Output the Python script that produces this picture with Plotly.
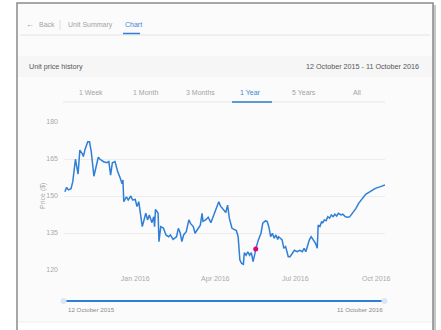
import plotly.graph_objects as go

# Unit price history, 12 Oct 2015 - 11 Oct 2016
dates = [
    "2015-10-13", "2015-10-15", "2015-10-17", "2015-10-20", "2015-10-22", "2015-10-25",
    "2015-10-28", "2015-10-30", "2015-11-02", "2015-11-03", "2015-11-05", "2015-11-08",
    "2015-11-10", "2015-11-12", "2015-11-15", "2015-11-17", "2015-11-20", "2015-11-22",
    "2015-11-26", "2015-11-30", "2015-12-02", "2015-12-04", "2015-12-06", "2015-12-09",
    "2015-12-12", "2015-12-15", "2015-12-17", "2015-12-18", "2015-12-19", "2015-12-22",
    "2015-12-24", "2015-12-27", "2015-12-29", "2016-01-01", "2016-01-03", "2016-01-05",
    "2016-01-07", "2016-01-09", "2016-01-11", "2016-01-13", "2016-01-15", "2016-01-17",
    "2016-01-20", "2016-01-22", "2016-01-23", "2016-01-24", "2016-01-27", "2016-01-28",
    "2016-01-30", "2016-02-02", "2016-02-05", "2016-02-08", "2016-02-10", "2016-02-13",
    "2016-02-17", "2016-02-19", "2016-02-21", "2016-02-23", "2016-02-25", "2016-02-28",
    "2016-03-02", "2016-03-04", "2016-03-07", "2016-03-09", "2016-03-11", "2016-03-15",
    "2016-03-17", "2016-03-18", "2016-03-21", "2016-03-24", "2016-03-27", "2016-03-30",
    "2016-04-01", "2016-04-03", "2016-04-05", "2016-04-07", "2016-04-11", "2016-04-13",
    "2016-04-15", "2016-04-17", "2016-04-20", "2016-04-23", "2016-04-25", "2016-04-27",
    "2016-04-29", "2016-05-01", "2016-05-03", "2016-05-04", "2016-05-06", "2016-05-08",
    "2016-05-10", "2016-05-12", "2016-05-14", "2016-05-16", "2016-05-17", "2016-05-20",
    "2016-05-23", "2016-05-25", "2016-05-28", "2016-05-30", "2016-06-01", "2016-06-03",
    "2016-06-05", "2016-06-07", "2016-06-09", "2016-06-11", "2016-06-12", "2016-06-14",
    "2016-06-16", "2016-06-18", "2016-06-20", "2016-06-22", "2016-06-23", "2016-06-25",
    "2016-06-27", "2016-06-30", "2016-07-03", "2016-07-06", "2016-07-09", "2016-07-11",
    "2016-07-13", "2016-07-15", "2016-07-17", "2016-07-19", "2016-07-22", "2016-07-24",
    "2016-07-26", "2016-07-27", "2016-07-29", "2016-07-31", "2016-08-01", "2016-08-03",
    "2016-08-05", "2016-08-07", "2016-08-09", "2016-08-11", "2016-08-13", "2016-08-15",
    "2016-08-17", "2016-08-19", "2016-08-22", "2016-08-24", "2016-08-27", "2016-08-30",
    "2016-09-01", "2016-09-04", "2016-09-08", "2016-09-11", "2016-09-15", "2016-09-19",
    "2016-09-25", "2016-09-30", "2016-10-06", "2016-10-11",
]
prices = [
    151.7, 153.5, 152.5, 153.0, 155.8, 164.9,
    158.9, 168.6, 167.0, 166.0, 169.0, 172.0,
    172.0, 168.0, 158.0, 161.2, 165.7, 164.9,
    163.9, 163.5, 164.0, 158.5, 163.5, 164.0,
    159.9, 157.2, 155.0, 156.5, 147.7, 149.7,
    148.4, 150.0, 148.4, 148.6, 145.7, 147.7,
    142.3, 137.6, 140.3, 143.0, 140.3, 142.3,
    139.2, 141.6, 137.6, 144.6, 143.0, 131.5,
    137.6, 137.0, 134.2, 133.5, 134.2, 132.4,
    133.5, 136.9, 135.2, 131.5, 134.2, 135.5,
    140.3, 138.8, 137.6, 134.9, 136.0, 138.2,
    143.0, 139.7, 140.3, 141.4, 139.2, 142.3,
    143.6, 145.9, 147.7, 145.9, 144.3, 143.3,
    146.3, 141.0, 136.9, 136.5, 136.0, 133.5,
    124.0, 122.7, 122.3, 127.0, 126.0, 127.4,
    126.0, 127.0, 123.4, 126.5, 128.5, 132.2,
    134.9, 139.0, 139.9, 139.7, 137.4, 133.5,
    134.9, 132.9, 134.2, 132.4, 133.5, 132.9,
    132.2, 128.8, 129.5, 126.8, 125.4, 125.4,
    126.3, 128.0, 127.4, 128.0, 127.4, 128.8,
    127.4, 130.1, 132.2, 133.5, 131.5, 130.8,
    128.8, 138.2, 137.6, 139.7, 139.0, 140.3,
    140.0, 141.6, 141.0, 142.3, 141.6, 142.6,
    141.9, 143.0, 142.3, 142.6, 141.6, 141.4,
    141.6, 143.0, 145.0, 147.0, 149.0, 150.7,
    152.0, 153.1, 153.8, 154.5,
]

highlight_date = ["2016-05-17"]
highlight_price = [128.5]

y_ticks = [120, 135, 150, 165, 180]
x_tick_dates = ["2016-01-01", "2016-04-01", "2016-07-01", "2016-10-01"]
x_tick_labels = ["Jan 2016", "Apr 2016", "Jul 2016", "Oct 2016"]

nav_items = ["Back", "Unit Summary", "Chart"]
range_tabs = ["1 Week", "1 Month", "3 Months", "1 Year", "5 Years", "All"]
active_tab = "1 Year"
start_label = "12 October 2015"
end_label = "11 October 2016"

W, H = 441, 330
L, R, T, B = 64, 56, 122, 60
PW, PH = W - L - R, H - T - B

FONT = "Liberation Sans, Arial, sans-serif"
BLUE = "#2f7ed8"
MUTED = "#a3a3a3"


def fx(px):
    return (px - L) / PW


def fy(py):
    return (H - B - py) / PH


def hline(x0, x1, y, color, width=1):
    return dict(type="line", xref="paper", yref="paper",
                x0=fx(x0), x1=fx(x1), y0=fy(y), y1=fy(y),
                line=dict(color=color, width=width), layer="below")


def vline(x, y0, y1, color, width=1):
    return dict(type="line", xref="paper", yref="paper",
                x0=fx(x), x1=fx(x), y0=fy(y0), y1=fy(y1),
                line=dict(color=color, width=width), layer="below")


def box(x0, y0, x1, y1, fill, line_color=None, width=0):
    return dict(type="rect", xref="paper", yref="paper",
                x0=fx(x0), x1=fx(x1), y0=fy(y1), y1=fy(y0),
                fillcolor=fill, line=dict(color=line_color or fill, width=width),
                layer="below")


def label(text, x, y, size=7, color=MUTED, xanchor="center"):
    return dict(text=text, xref="paper", yref="paper", x=fx(x), y=fy(y),
                xanchor=xanchor, yanchor="middle", showarrow=False,
                font=dict(family=FONT, size=size, color=color))


shapes = [
    # panel shadow and frame
    box(19, 5, 436, 340, "#c8c8c8"),
    box(17, 3, 433, 340, "#fbfbfb", "#8a8a8a", 1.5),
    # header band
    box(18, 56, 432, 77, "#f6f6f6"),
    # bottom strip
    box(18, 322, 432, 340, "#ffffff"),
    hline(18, 432, 322, "#efefef"),
    # navigation divider and active underline
    hline(20, 430, 35, "#e4e4e4"),
    vline(60, 20, 30, "#dddddd"),
    hline(123, 140, 33.5, BLUE, 1.5),
    # range tabs baseline and active underline
    hline(63, 385, 102, "#e6e6e6"),
    hline(232, 272, 102, "#5a9ad8", 2),
    # navigator
    hline(66, 382, 301, BLUE, 2),
    dict(type="circle", xref="paper", yref="paper",
         x0=fx(60.5), x1=fx(66.5), y0=fy(304), y1=fy(298),
         fillcolor="#dce6f2", line=dict(color="#dce6f2", width=0)),
    dict(type="circle", xref="paper", yref="paper",
         x0=fx(381.5), x1=fx(387.5), y0=fy(304), y1=fy(298),
         fillcolor="#dce6f2", line=dict(color="#dce6f2", width=0)),
]

annotations = [
    label("\u2190", 30, 24.5, 8, "#8a8a8a"),
    label(nav_items[0], 37, 25, 7, MUTED, "left"),
    label(nav_items[1], 66, 25, 7, MUTED, "left"),
    label(nav_items[2], 123, 25, 7, "#3b86d8", "left"),
    label("Unit price history", 27, 66, 7.2, "#555555", "left"),
    label(f"{start_label} - {end_label}", 421, 66, 7.2, "#555555", "right"),
    label("Price ($)", 43, 196, 7, "#aaaaaa"),
    label(start_label, 66, 309, 6.2, "#8a8a8a", "left"),
    label(end_label, 385, 309, 6.2, "#8a8a8a", "right"),
]
annotations[6]["textangle"] = -90

tab_x = [91, 145, 200, 251, 304, 357]
for name, x in zip(range_tabs, tab_x):
    annotations.append(label(name, x, 92, 7,
                             "#3b86d8" if name == active_tab else MUTED))

fig = go.Figure()
fig.add_trace(go.Scatter(
    x=dates, y=prices, mode="lines",
    line=dict(color=BLUE, width=1.5), hoverinfo="x+y", showlegend=False,
))
fig.add_trace(go.Scatter(
    x=highlight_date, y=highlight_price, mode="markers",
    marker=dict(color="#e4007c", size=5), showlegend=False,
))

fig.update_layout(
    width=W, height=H,
    margin=dict(l=L, r=R, t=T, b=B, pad=0),
    paper_bgcolor="#ffffff",
    plot_bgcolor="rgba(0,0,0,0)",
    font=dict(family=FONT, size=7, color=MUTED),
    shapes=shapes,
    annotations=annotations,
    xaxis=dict(
        type="date", range=["2015-10-12", "2016-10-11"],
        tickvals=x_tick_dates, ticktext=x_tick_labels,
        showgrid=False, zeroline=False, showline=False, ticks="",
        tickfont=dict(size=7, color="#aaaaaa"),
        ticklabelstandoff=3,
    ),
    yaxis=dict(
        range=[120, 180], tickvals=y_ticks,
        showgrid=True, gridcolor="#ececec", gridwidth=1,
        zeroline=False, showline=False, ticks="",
        tickfont=dict(size=7, color="#aaaaaa"),
        ticklabelstandoff=5,
    ),
)

fig.write_html("out.html")
